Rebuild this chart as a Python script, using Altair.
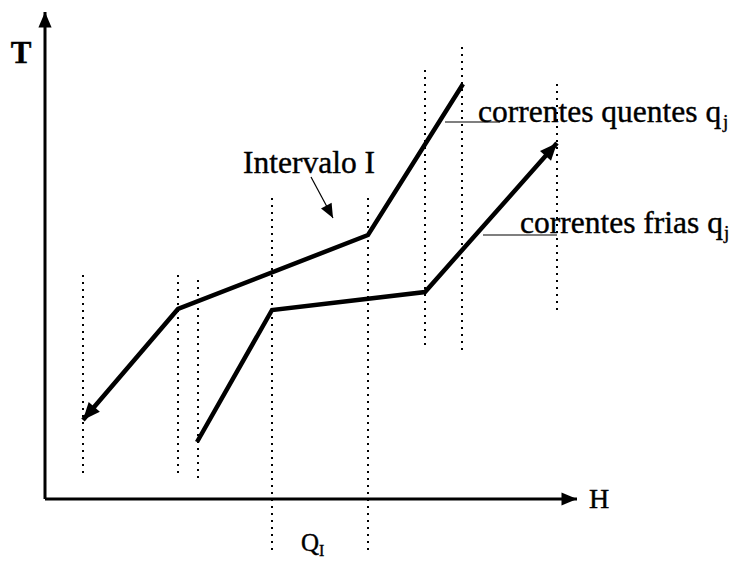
import math
import altair as alt
import pandas as pd

# Composite curves sketch: temperature T versus enthalpy H (arbitrary units)
hot_H = [3.8, 13.3, 32.3, 41.8]
hot_T = [7.9, 19.0, 26.4, 41.5]
cold_H = [15.2, 22.7, 38.0, 51.2]
cold_T = [5.7, 18.9, 20.7, 35.6]

# Vertical dotted guides at the curve break points
guide_H = [3.8, 13.3, 15.3, 22.7, 32.3, 38.0, 41.7, 51.2]
guide_T0 = [2.6, 2.6, 2.1, -5.1, -5.1, 15.4, 14.9, 18.9]
guide_T1 = [22.7, 22.7, 22.2, 30.4, 30.4, 42.9, 45.4, 41.9]

# Axis lines (end points of H and T arrows)
axis_H = [0.0, 0.0]
axis_T = [0.0, 0.0]
axis_H2 = [0.0, 53.2]
axis_T2 = [48.7, 0.0]

# Pointer from the "Intervalo I" label
pointer_H = [26.6, 28.8]
pointer_T = [32.2, 28.1]

# Leader lines under the stream labels
leader_H = [40.0, 43.8]
leader_H2 = [45.5, 51.2]
leader_T = [37.7, 26.4]

# Labels
big_text = ["Intervalo I", "correntes quentes q", "correntes frias q"]
big_H = [19.8, 43.3, 47.5]
big_T = [32.6, 37.7, 26.6]
sub_text = ["j", "j"]
sub_H = [67.8, 67.9]
sub_T = [37.1, 26.0]
t_text = ["T"]
t_H = [-2.4]
t_T = [43.6]
h_text = ["H"]
h_H = [55.4]
h_T = [-0.9]
q_text = ["Q"]
q_H = [25.6]
q_T = [-5.2]
qsub_text = ["I"]
qsub_H = [27.4]
qsub_T = [-5.7]

FONT = "Liberation Serif"
xs = alt.Scale(domain=[-4.5, 68.9], nice=False, zero=False)
ys = alt.Scale(domain=[-6.5, 49.9], nice=False, zero=False)
X = lambda f: alt.X(f, type="quantitative", scale=xs, axis=None)
Y = lambda f: alt.Y(f, type="quantitative", scale=ys, axis=None)


def heading(h0, t0, h1, t1):
    a = math.degrees(math.atan2(h1 - h0, t1 - t0))
    return a % 360


hot_df = pd.DataFrame({"H": hot_H, "T": hot_T, "i": range(len(hot_H))})
cold_df = pd.DataFrame({"H": cold_H, "T": cold_T, "i": range(len(cold_H))})
guide_df = pd.DataFrame({"H": guide_H, "T0": guide_T0, "T1": guide_T1})
axis_df = pd.DataFrame({"H": axis_H, "T": axis_T, "H2": axis_H2, "T2": axis_T2})
pointer_df = pd.DataFrame({"H": [pointer_H[0]], "T": [pointer_T[0]],
                           "H2": [pointer_H[1]], "T2": [pointer_T[1]]})
leader_df = pd.DataFrame({"H": leader_H, "H2": leader_H2, "T": leader_T})

# Arrow heads placed at the curve / axis tips, oriented along the last segment
heads = pd.DataFrame({
    "H": [hot_H[0], cold_H[-1], axis_H2[0], axis_H2[1]],
    "T": [hot_T[0], cold_T[-1], axis_T2[0], axis_T2[1]],
    "angle": [
        heading(hot_H[1], hot_T[1], hot_H[0], hot_T[0]),
        heading(cold_H[-2], cold_T[-2], cold_H[-1], cold_T[-1]),
        0.0,
        90.0,
    ],
    "size": [300, 300, 240, 240],
})
small_head = pd.DataFrame({
    "H": [pointer_H[1]], "T": [pointer_T[1]],
    "angle": [heading(pointer_H[0], pointer_T[0], pointer_H[1], pointer_T[1])],
})

arrow_path = "M0,0L-0.85,2L0.85,2Z"


def label(df_cols, size, align="left", weight="normal"):
    h, t, s = df_cols
    return alt.Chart(pd.DataFrame({"H": h, "T": t, "s": s})).mark_text(
        font=FONT, fontSize=size, align=align, baseline="alphabetic",
        color="black", fontWeight=weight, stroke="black", strokeWidth=0.4
    ).encode(x=X("H"), y=Y("T"), text="s:N")


guides = alt.Chart(guide_df).mark_rule(
    color="black", strokeWidth=2, strokeDash=[2, 5]
).encode(x=X("H"), y=Y("T0"), y2="T1")

axes = alt.Chart(axis_df).mark_rule(color="black", strokeWidth=3).encode(
    x=X("H"), y=Y("T"), x2="H2", y2="T2"
)

hot = alt.Chart(hot_df).mark_line(
    color="black", strokeWidth=4.5, strokeJoin="miter", strokeCap="butt"
).encode(x=X("H"), y=Y("T"), order="i:Q")

cold = alt.Chart(cold_df).mark_line(
    color="black", strokeWidth=4.5, strokeJoin="miter", strokeCap="butt"
).encode(x=X("H"), y=Y("T"), order="i:Q")

pointer = alt.Chart(pointer_df).mark_rule(color="black", strokeWidth=1.2).encode(
    x=X("H"), y=Y("T"), x2="H2", y2="T2"
)

leaders = alt.Chart(leader_df).mark_rule(color="black", strokeWidth=1.2).encode(
    x=X("H"), x2="H2", y=Y("T")
)

head_marks = alt.Chart(heads).mark_point(
    shape=arrow_path, filled=True, color="black", opacity=1, strokeWidth=0
).encode(
    x=X("H"), y=Y("T"),
    angle=alt.Angle("angle:Q", scale=None),
    size=alt.Size("size:Q", scale=None, legend=None),
)

small_head_mark = alt.Chart(small_head).mark_point(
    shape=arrow_path, filled=True, color="black", opacity=1, size=200, strokeWidth=0
).encode(x=X("H"), y=Y("T"), angle=alt.Angle("angle:Q", scale=None))

chart = alt.layer(
    guides, axes, hot, cold, pointer, leaders, head_marks, small_head_mark,
    label((big_H, big_T, big_text), 31.5),
    label((sub_H, sub_T, sub_text), 19),
    label((t_H, t_T, t_text), 31, align="center", weight="bold"),
    label((h_H, h_T, h_text), 28, align="center"),
    label((q_H, q_T, q_text), 25),
    label((qsub_H, qsub_T, qsub_text), 16),
).properties(
    width=734, height=564, padding=0, autosize=alt.AutoSizeParams(type="none"),
    background="white",
).configure_view(stroke=None)

chart.save("out.html", embed_options={"renderer": "svg", "actions": False})
